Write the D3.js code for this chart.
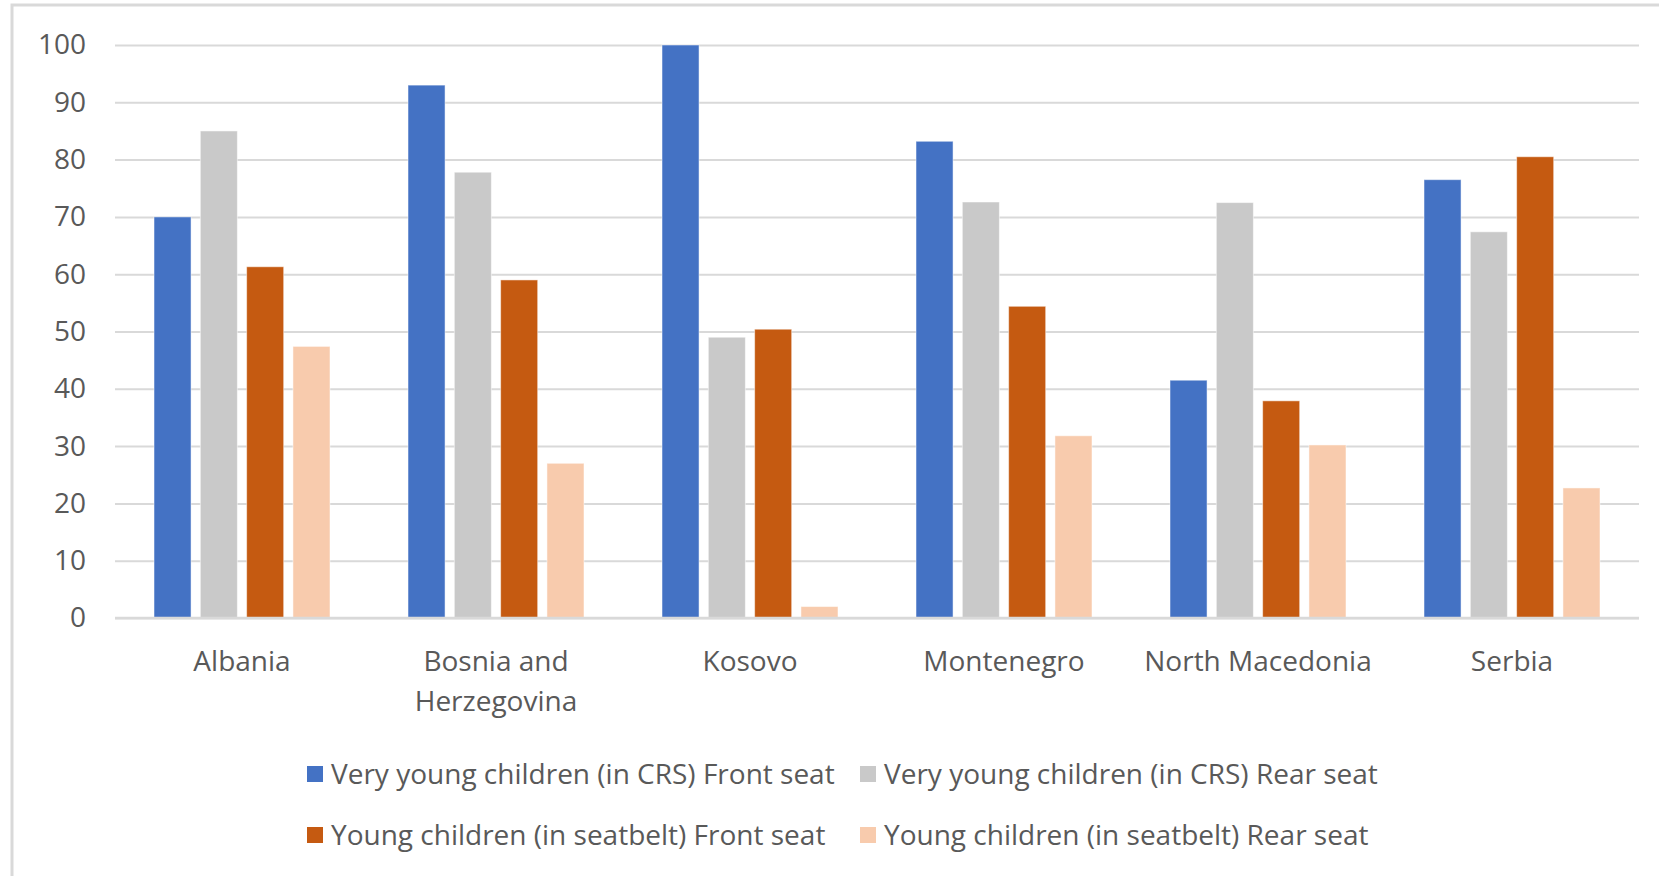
<!DOCTYPE html>
<html>
<head>
<meta charset="utf-8">
<script src="https://cdn.jsdelivr.net/npm/d3@7"></script>
<style>
  body { margin: 0; background: #fff; }
  svg { display: block; }
  text { font-family: "Open Sans", "Noto Sans", sans-serif; fill: #595959; }
</style>
</head>
<body>
<div id="chart"></div>
<script>
var countries = ["Albania", "Bosnia and Herzegovina", "Kosovo", "Montenegro", "North Macedonia", "Serbia"];
var seriesNames = [
    "Very young children (in CRS) Front seat",
    "Very young children (in CRS) Rear seat",
    "Young children (in seatbelt) Front seat",
    "Young children (in seatbelt) Rear seat"
];
var veryYoungFront = [70, 93, 100, 83.2, 41.5, 76.5];
var veryYoungRear = [85, 77.8, 49, 72.6, 72.5, 67.4];
var youngFront = [61.3, 59, 50.4, 54.4, 37.9, 80.5];
var youngRear = [47.4, 27, 2, 31.8, 30.2, 22.7];
var yTicks = [0, 10, 20, 30, 40, 50, 60, 70, 80, 90, 100];

var seriesValues = [veryYoungFront, veryYoungRear, youngFront, youngRear];
var colors = ["#4472C4", "#C9C9C9", "#C55A11", "#F8CBAD"];

var width = 1659, height = 876;
var margin = {top: 45, right: 20, bottom: 258, left: 115};
var groupWidth = 176;
var fontSize = "28px";

var svg = d3.select("#chart").append("svg")
    .attr("width", width)
    .attr("height", height);

// chart frame (open on the right and bottom, as in the cropped original)
svg.append("path")
    .attr("d", `M12,${height + 5}V5H${width + 5}`)
    .attr("fill", "none")
    .attr("stroke", "#d9d9d9")
    .attr("stroke-width", 3);

var x0 = d3.scaleBand()
    .domain(countries)
    .range([margin.left, width - margin.right]);

var x1 = d3.scaleBand()
    .domain(d3.range(seriesNames.length))
    .range([0, groupWidth])
    .paddingInner(0.2)
    .paddingOuter(0);

var y = d3.scaleLinear()
    .domain([0, 100])
    .range([height - margin.bottom, margin.top]);

// gridlines and y labels
var yAxis = g => g
    .attr("transform", `translate(${margin.left},0)`)
    .call(d3.axisLeft(y).tickValues(yTicks).tickSize(-(width - margin.left - margin.right)).tickPadding(29))
    .call(g => g.select(".domain").remove())
    .call(g => g.selectAll(".tick line").attr("stroke", "#d9d9d9").attr("stroke-width", 2))
    .call(g => g.selectAll(".tick text").style("font-size", fontSize).attr("fill", "#595959"));

svg.append("g").call(yAxis);

// bars
var groups = svg.append("g")
    .selectAll("g")
    .data(countries)
    .join("g")
    .attr("transform", d => `translate(${x0(d) + (x0.bandwidth() - groupWidth) / 2},0)`);

groups.selectAll("rect")
    .data((d, i) => seriesValues.map((s, k) => ({k: k, v: s[i]})))
    .join("rect")
    .attr("x", d => x1(d.k))
    .attr("width", x1.bandwidth())
    .attr("y", d => y(d.v))
    .attr("height", d => y(0) - y(d.v))
    .attr("fill", d => colors[d.k])
    .attr("stroke", "#ffffff")
    .attr("stroke-opacity", 0.5)
    .attr("stroke-width", 1);

// baseline
svg.append("line")
    .attr("x1", margin.left)
    .attr("x2", width - margin.right)
    .attr("y1", y(0))
    .attr("y2", y(0))
    .attr("stroke", "#d9d9d9")
    .attr("stroke-width", 2.5);

// category labels
var catLines = {"Bosnia and Herzegovina": ["Bosnia and", "Herzegovina"]};
var labels = svg.append("g")
    .selectAll("text")
    .data(countries)
    .join("text")
    .attr("text-anchor", "middle")
    .attr("x", d => x0(d) + x0.bandwidth() / 2)
    .attr("y", y(0) + 53)
    .style("font-size", fontSize);

labels.selectAll("tspan")
    .data(d => catLines[d] || [d])
    .join("tspan")
    .attr("x", function() { return this.parentNode.getAttribute("x"); })
    .attr("dy", (d, i) => i === 0 ? 0 : 40)
    .text(d => d);

// legend
var legendPos = [
    {x: 307, y: 774},
    {x: 860, y: 774},
    {x: 307, y: 835},
    {x: 860, y: 835}
];

var legend = svg.append("g")
    .selectAll("g")
    .data(seriesNames)
    .join("g")
    .attr("transform", (d, i) => `translate(${legendPos[i].x},${legendPos[i].y})`);

legend.append("rect")
    .attr("x", 0)
    .attr("y", -8)
    .attr("width", 16)
    .attr("height", 16)
    .attr("fill", (d, i) => colors[i]);

legend.append("text")
    .attr("x", 24)
    .attr("dy", "0.36em")
    .style("font-size", fontSize)
    .text(d => d);
</script>
</body>
</html>
